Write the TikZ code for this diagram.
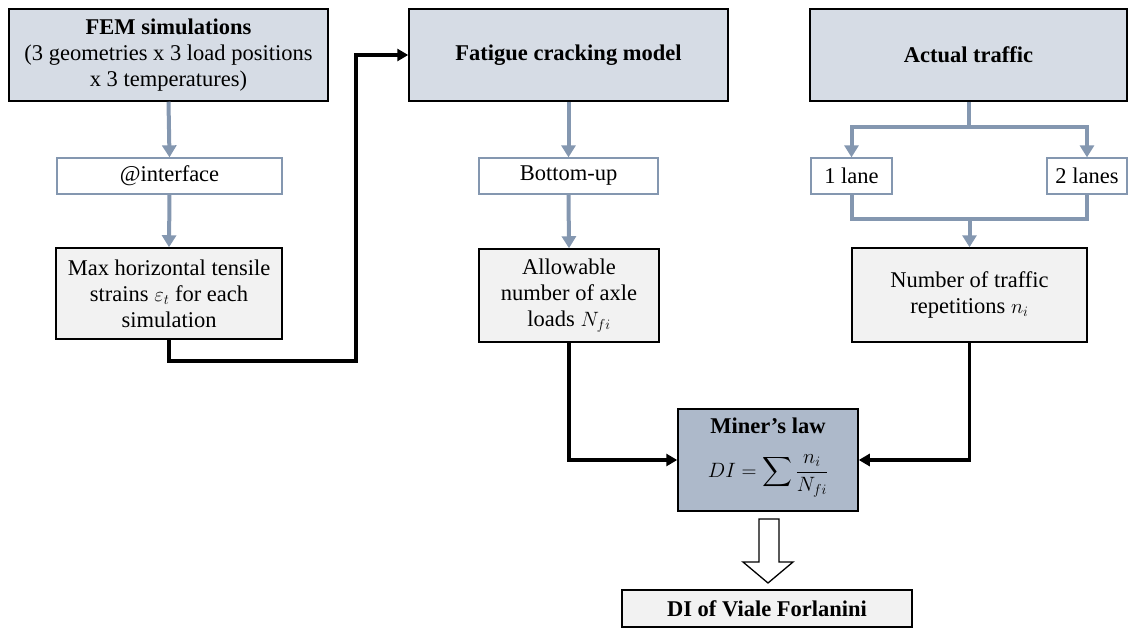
\documentclass[tikz,border=0pt]{standalone}
\usepackage{amsmath}
\usepackage{exscale}
\usepackage{fontspec}
\setmainfont{Liberation Serif}
\usetikzlibrary{arrows.meta}
\definecolor{hdr}{HTML}{D6DCE5}
\definecolor{minerfill}{HTML}{ADB9CA}
\definecolor{bg}{HTML}{8497B0}
\definecolor{grayfill}{HTML}{F2F2F2}
\tikzset{
  box/.style={rectangle, draw=black, line width=1.5pt, align=center, inner sep=2pt,
    font=\fontsize{22.5}{26}\selectfont},
  hdrbox/.style={box, fill=hdr},
  graybox/.style={box, fill=grayfill},
  whitebox/.style={box, fill=white, draw=bg, line width=1.3pt},
  txt/.style={inner sep=0pt, font=\fontsize{22.5}{26}\selectfont},
  bline/.style={draw=bg, line width=4pt},
  barrow/.style={bline, -{Triangle[length=12pt,width=14pt]}},
  karrow/.style={draw=black, line width=3.2pt, -{Triangle[length=11pt,width=12pt]}},
}
\begin{document}
\begin{tikzpicture}[x=1pt,y=-1pt]
\useasboundingbox (0,0) rectangle (1128,629);
% top row
\node[hdrbox, minimum width=319pt, minimum height=92pt] (fem) at (168.5,55)
  {\textbf{FEM simulations}\\(3 geometries x 3 load positions\\x 3 temperatures)};
\node[hdrbox, minimum width=319pt, minimum height=92pt] (fatigue) at (568.5,55)
  {\textbf{Fatigue cracking model}};
\node[hdrbox, minimum width=317pt, minimum height=92pt] (traffic) at (968.5,55)
  {\textbf{Actual traffic}};
% second row
\node[whitebox, minimum width=225pt, minimum height=36pt] (iface) at (169.5,176) {@interface};
\node[whitebox, minimum width=179pt, minimum height=36pt] (bottomup) at (568.5,176) {Bottom-up};
\node[whitebox, minimum width=81pt, minimum height=36pt] (lane1) at (851.5,176) {1 lane};
\node[whitebox, minimum width=80pt, minimum height=36pt] (lane2) at (1087,176) {2 lanes};
% third row
\node[graybox, minimum width=226pt, minimum height=91pt] (maxh) at (169,293.5)
  {Max horizontal tensile\\strains $\varepsilon_t$ for each\\simulation};
\node[graybox, minimum width=180pt, minimum height=93pt] (allow) at (569,295.5)
  {Allowable\\number of axle\\loads $N_{fi}$};
\node[graybox, minimum width=235pt, minimum height=94pt] (number) at (969.5,295)
  {Number of traffic\\repetitions $n_i$};
% Miner's law
\node[box, fill=minerfill, minimum width=180pt, minimum height=102pt] (miner) at (768,460) {};
\node[txt] (minertitle) at (768,426) {\textbf{Miner’s law}};
\node[txt] (minerformula) at (768,476) {$DI=\displaystyle\sum\frac{n_i}{N_{fi}}$};
\node[graybox, minimum width=290pt, minimum height=37pt] (di) at (767,608.5)
  {\textbf{DI of Viale Forlanini}};
% blue-gray connectors
\draw[barrow] (fem.south) -- (iface.north);
\draw[barrow] (iface.south) -- (maxh.north);
\draw[barrow] (fatigue.south) -- (bottomup.north);
\draw[barrow] (bottomup.south) -- (allow.north);
\coordinate (split) at (968.5,127);
\coordinate (merge) at (969.5,219);
\draw[bline] (traffic.south) -- (split);
\draw[barrow] (split) -| (lane1.north);
\draw[barrow] (split) -| (lane2.north);
\draw[bline] (lane1.south) |- (merge) -| (lane2.south);
\draw[barrow] (merge) -- (number.north);
% black connectors
\coordinate (c1) at (356,361);
\draw[karrow] (maxh.south) |- (c1) |- (fatigue.west);
\draw[karrow] (allow.south) |- (miner.west);
\draw[karrow] (number.south) |- (miner.east);
% open block arrow
\draw[black, line width=1.3pt, fill=white, line join=miter]
  (759,519) -- (779,519) -- (779,562) -- (793,562) -- (768,583) -- (743,562) -- (759,562) -- cycle;
\end{tikzpicture}
\end{document}
